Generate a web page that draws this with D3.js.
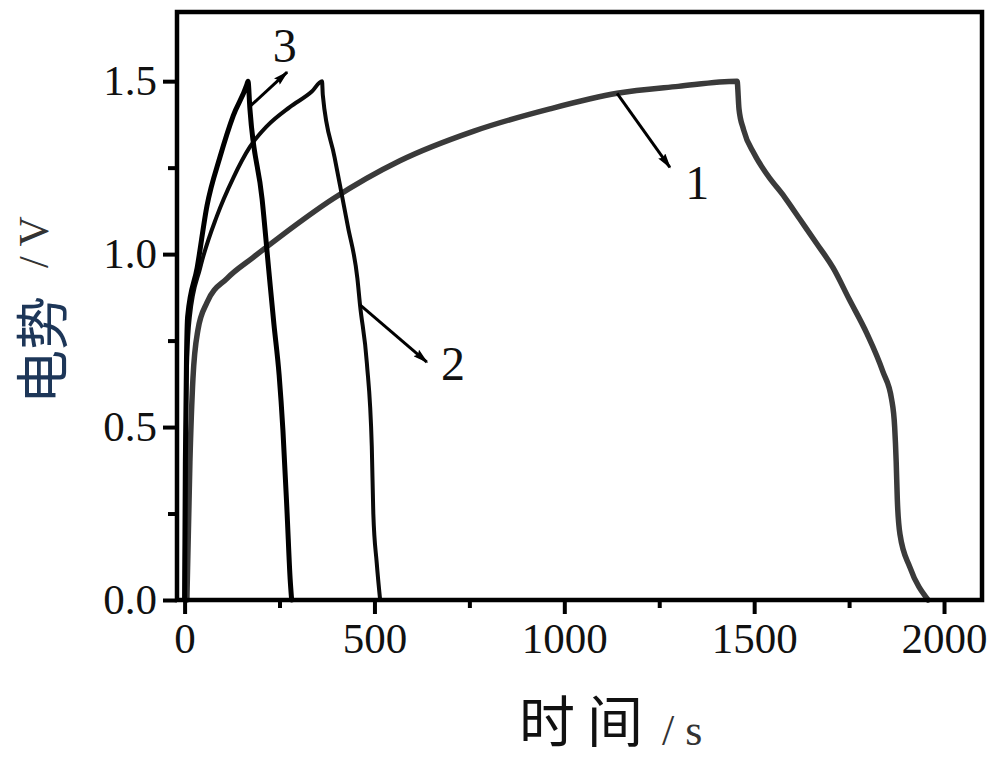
<!DOCTYPE html>
<html>
<head>
<meta charset="utf-8">
<script src="https://cdn.jsdelivr.net/npm/d3@7"></script>
<style>
  html, body { margin: 0; padding: 0; background: #fff; }
  svg { display: block; }
</style>
</head>
<body>
<svg id="chart" width="1000" height="761"></svg>
<script>
// ---------------- data (time in s, potential in V) ----------------
const curve1T = [6, 14, 22, 35, 59, 112, 180, 251, 391, 567, 760, 962, 1139, 1300, 1455, 1460, 1472, 1500, 1534, 1580, 1621, 1665, 1708, 1750, 1797, 1839, 1862, 1870, 1874, 1877, 1884, 1910, 1958];
const curve1V = [0, 0.40, 0.64, 0.78, 0.86, 0.93, 0.99, 1.05, 1.16, 1.27, 1.355, 1.42, 1.465, 1.485, 1.50, 1.42, 1.36, 1.29, 1.23, 1.165, 1.10, 1.03, 0.96, 0.87, 0.77, 0.66, 0.58, 0.50, 0.40, 0.29, 0.19, 0.095, 0];

const curve2T = [0, 3, 7, 14, 41, 85, 128, 172, 217, 277, 335, 362, 364, 395, 430, 455, 462, 480, 493, 497, 506, 515];
const curve2V = [0, 0.45, 0.70, 0.82, 0.96, 1.11, 1.22, 1.31, 1.37, 1.425, 1.47, 1.50, 1.46, 1.28, 1.08, 0.93, 0.853, 0.685, 0.443, 0.25, 0.107, 0];

const curve3T = [0, 2, 5, 8, 33, 59, 93, 128, 164, 167, 172, 204, 222, 235, 249, 259, 270, 278, 282];
const curve3V = [0, 0.40, 0.70, 0.82, 0.96, 1.14, 1.28, 1.40, 1.49, 1.50, 1.42, 1.16, 0.95, 0.80, 0.65, 0.49, 0.25, 0.06, 0];

const seriesNames = ["1", "2", "3"];

// annotation arrows
const arrowStartT = [1139, 462, 175];
const arrowStartV = [1.465, 0.853, 1.43];
const arrowEndT   = [1278, 638, 270];
const arrowEndV   = [1.251, 0.688, 1.526];
const labelT = [1350, 707, 264];
const labelV = [1.208, 0.685, 1.604];

const xTicks = [0, 500, 1000, 1500, 2000];
const xMinorTicks = [250, 750, 1250, 1750];
const yTicks = [0.0, 0.5, 1.0, 1.5];
const yMinorTicks = [0.25, 0.75, 1.25];

const xDomain = [-20, 2100];
const yDomain = [0, 1.7];

// ---------------- drawing ----------------
const svg = d3.select("#chart");
const padL = 177, padR = 982, padT = 12, padB = 600;

const x = d3.scaleLinear().domain(xDomain).range([padL, padR]);
const y = d3.scaleLinear().domain(yDomain).range([padB, padT]);

const defs = svg.append("defs");
defs.append("marker")
  .attr("id", "arrowhead")
  .attr("viewBox", "0 0 10 5.6")
  .attr("refX", 9).attr("refY", 2.8)
  .attr("markerWidth", 5.2).attr("markerHeight", 2.9)
  .attr("markerUnits", "strokeWidth")
  .attr("orient", "auto")
  .append("path")
  .attr("d", "M0,0 L10,2.8 L0,5.6 L1.5,2.8 Z")
  .attr("fill", "#000");

const serif = "'Liberation Serif', 'Times New Roman', serif";
const cjk = "'Noto Sans CJK SC', sans-serif";

const curves = [
  { t: curve1T, v: curve1V, color: "#3a3a3a", w: 5.5 },
  { t: curve2T, v: curve2V, color: "#0a0a0a", w: 4 },
  { t: curve3T, v: curve3V, color: "#000000", w: 5 }
];
const line = d3.line().x(d => x(d[0])).y(d => y(d[1])).curve(d3.curveMonotoneX);

const plot = svg.append("g");
curves.forEach((c, i) => {
  const pts = c.t.map((t, k) => [t, c.v[k]]);
  plot.append("path")
    .datum(pts)
    .attr("class", "series series-" + seriesNames[i])
    .attr("d", line)
    .attr("fill", "none")
    .attr("stroke", c.color)
    .attr("stroke-width", c.w)
    .attr("stroke-linejoin", "round")
    .attr("stroke-linecap", "round");
});

seriesNames.forEach((name, i) => {
  svg.append("line")
    .attr("x1", x(arrowStartT[i])).attr("y1", y(arrowStartV[i]))
    .attr("x2", x(arrowEndT[i])).attr("y2", y(arrowEndV[i]))
    .attr("stroke", "#000").attr("stroke-width", 3)
    .attr("marker-end", "url(#arrowhead)");
  svg.append("text")
    .attr("x", x(labelT[i])).attr("y", y(labelV[i]))
    .attr("dy", "0.35em")
    .attr("text-anchor", "middle")
    .attr("font-family", serif)
    .attr("font-size", 48)
    .attr("fill", "#111")
    .text(name);
});

const xAxis = d3.axisBottom(x).tickValues(xTicks).tickSize(14).tickPadding(8).tickFormat(d3.format("d"));
const xMinor = d3.axisBottom(x).tickValues(xMinorTicks).tickSize(8).tickFormat("");
const yAxis = d3.axisLeft(y).tickValues(yTicks).tickSize(14).tickPadding(6).tickFormat(d3.format(".1f"));
const yMinor = d3.axisLeft(y).tickValues(yMinorTicks).tickSize(9).tickFormat("");

function styleAxis(g) {
  g.select(".domain").remove();
  g.selectAll(".tick line").attr("stroke", "#000").attr("stroke-width", 4);
  g.selectAll(".tick text").attr("font-family", serif).attr("font-size", 43).attr("fill", "#111");
}

svg.append("g").attr("transform", `translate(0,${padB})`).call(xAxis).call(styleAxis);
svg.append("g").attr("transform", `translate(0,${padB})`).call(xMinor).call(styleAxis);
svg.append("g").attr("transform", `translate(${padL},0)`).call(yAxis).call(styleAxis);
svg.append("g").attr("transform", `translate(${padL},0)`).call(yMinor).call(styleAxis);

svg.append("rect")
  .attr("x", padL).attr("y", padT)
  .attr("width", padR - padL).attr("height", padB - padT)
  .attr("fill", "none").attr("stroke", "#000").attr("stroke-width", 4.5);

svg.append("text")
  .attr("x", 519).attr("y", 742)
  .attr("font-family", cjk).attr("font-size", 56)
  .attr("letter-spacing", 12)
  .attr("fill", "#111")
  .text("时间");
svg.append("text")
  .attr("x", 662).attr("y", 745)
  .attr("font-family", serif).attr("font-size", 44)
  .attr("fill", "#333")
  .attr("xml:space", "preserve")
  .text("/ s");

svg.append("text")
  .attr("transform", "translate(63,404) rotate(-90)")
  .attr("font-family", cjk).attr("font-size", 54)
  .attr("fill", "#1d3658")
  .text("电势");
svg.append("text")
  .attr("transform", "translate(48,268) rotate(-90)")
  .attr("font-family", serif).attr("font-size", 42)
  .attr("fill", "#333")
  .attr("xml:space", "preserve")
  .text("/ V");
</script>
</body>
</html>
